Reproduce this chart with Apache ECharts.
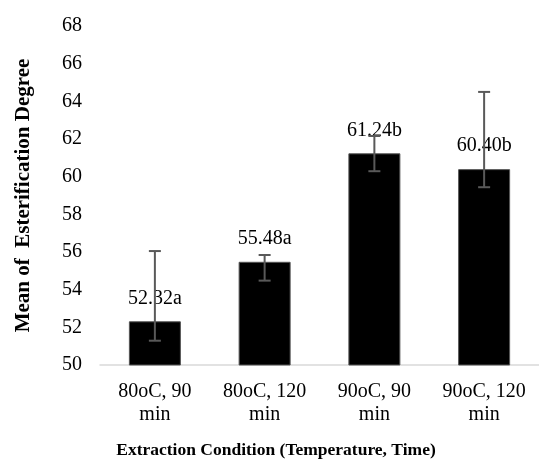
<!DOCTYPE html>
<html>
<head>
<meta charset="utf-8">
<title>Esterification Degree</title>
<script src="https://cdn.jsdelivr.net/npm/echarts@6/dist/echarts.min.js"></script>
<style>
	html, body { margin: 0; padding: 0; background: #fff; }
	#chart { width: 539px; height: 462px; }
</style>
</head>
<body>
<div id="chart"></div>
<script>
	// data
	var categories = ['80oC, 90\nmin', '80oC, 120\nmin', '90oC, 90\nmin', '90oC, 120\nmin'];
	var means = [52.32, 55.48, 61.24, 60.40];
	var letters = ['a', 'a', 'b', 'b'];
	var errHigh = [56.05, 55.84, 62.16, 64.50];
	var errLow = [51.29, 54.48, 60.29, 59.44];
	var yTicks = [50, 52, 54, 56, 58, 60, 62, 64, 66, 68];

	var serif = '"Liberation Serif", "DejaVu Serif", serif';

	var errData = [];
	for (var i = 0; i < categories.length; i++) {
		errData.push([i, errLow[i], errHigh[i]]);
	}

	var myChart = echarts.init(document.getElementById('chart'));
	var option = {
		animation: false,
		backgroundColor: '#fff',
		title: {
			text: 'Extraction Condition (Temperature, Time)',
			left: 271,
			top: 436,
			textAlign: 'center',
			textStyle: { fontFamily: serif, fontSize: 17.5, fontWeight: 'bold', color: '#000' }
		},
		grid: { left: 100, right: -7, top: 26, bottom: 97 },
		xAxis: {
			type: 'category',
			data: categories,
			axisLine: { lineStyle: { color: '#d9d9d9', width: 1.5 } },
			axisTick: { show: false },
			axisLabel: { fontFamily: serif, fontSize: 20, color: '#000', lineHeight: 23, margin: 15 }
		},
		yAxis: {
			type: 'value',
			min: yTicks[0],
			max: yTicks[yTicks.length - 1],
			interval: 2,
			name: 'Mean of  Esterification Degree',
			nameLocation: 'middle',
			nameGap: 66,
			nameTextStyle: { fontFamily: serif, fontSize: 21, fontWeight: 'bold', color: '#000' },
			axisLine: { show: false },
			axisTick: { show: false },
			splitLine: { show: false },
			axisLabel: { fontFamily: serif, fontSize: 20, color: '#000', margin: 18 }
		},
		series: [
			{
				type: 'bar',
				data: means,
				barWidth: 52,
				itemStyle: { color: '#000', borderColor: '#555', borderWidth: 1 },
				label: {
					show: true,
					position: 'top',
					distance: 13,
					fontFamily: serif,
					fontSize: 20,
					color: '#000',
					formatter: function(p) { return p.value.toFixed(2) + letters[p.dataIndex]; }
				},
				z: 2
			},
			{
				type: 'custom',
				data: errData,
				z: 5,
				renderItem: function(params, api) {
					var x = api.value(0);
					var lo = api.coord([x, api.value(1)]);
					var hi = api.coord([x, api.value(2)]);
					var w = 6;
					var st = { stroke: '#595959', lineWidth: 2 };
					return {
						type: 'group',
						children: [
							{ type: 'line', shape: { x1: hi[0], y1: hi[1], x2: lo[0], y2: lo[1] }, style: st },
							{ type: 'line', shape: { x1: hi[0] - w, y1: hi[1], x2: hi[0] + w, y2: hi[1] }, style: st },
							{ type: 'line', shape: { x1: lo[0] - w, y1: lo[1], x2: lo[0] + w, y2: lo[1] }, style: st }
						]
					};
				}
			}
		]
	};
	myChart.setOption(option);
</script>
</body>
</html>
